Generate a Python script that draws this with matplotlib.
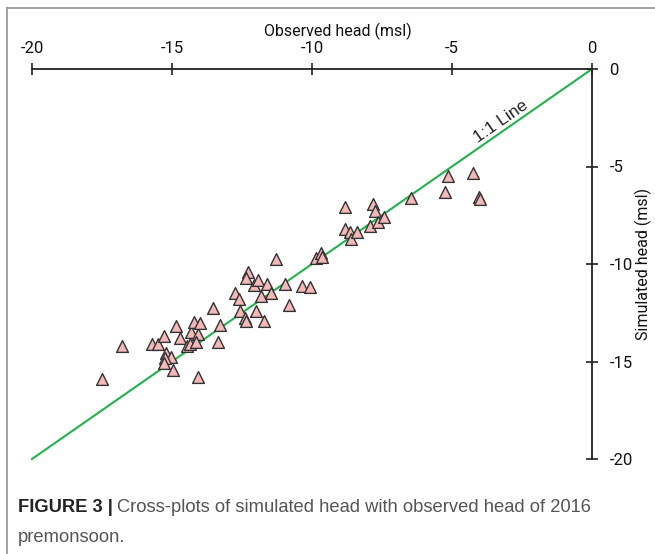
import matplotlib
matplotlib.use("Agg")
import matplotlib.pyplot as plt
from matplotlib.lines import Line2D

# observed vs simulated head (msl)
observed = [-17.51, -16.79, -15.72, -15.50, -15.27, -15.22, -15.02, -15.24, -15.27, -14.98,
            -14.85, -14.70, -14.47, -14.37, -14.31, -14.20, -14.07, -14.14, -13.99, -14.08,
            -13.55, -13.37, -13.30, -12.74, -12.61, -12.58, -12.40, -12.34, -12.28, -12.34,
            -12.08, -11.94, -11.99, -11.81, -11.72, -11.60, -11.45, -11.28, -10.98, -10.81,
            -10.35, -10.08, -9.84, -9.68, -9.64, -8.83, -8.66, -8.60, -8.81, -8.41,
            -7.94, -7.82, -7.74, -7.65, -7.43, -6.45, -5.25, -5.16, -4.26, -4.05, -4.01]
simulated = [-15.88, -14.21, -14.12, -14.12, -13.69, -14.58, -14.78, -14.84, -15.06, -15.44,
             -13.16, -13.81, -14.23, -14.10, -13.47, -12.96, -13.59, -13.98, -13.04, -15.79,
             -12.24, -13.98, -13.13, -11.50, -11.78, -12.39, -12.78, -12.91, -10.43, -10.73,
             -11.08, -10.82, -12.39, -11.64, -12.91, -11.04, -11.47, -9.74, -11.04, -12.10,
             -11.11, -11.16, -9.71, -9.45, -9.63, -8.22, -8.34, -8.70, -7.06, -8.36,
             -8.05, -6.92, -7.27, -7.83, -7.57, -6.63, -6.32, -5.49, -5.35, -6.58, -6.68]
one_to_one = [-20, 0]
ticks = [-20, -15, -10, -5, 0]

axis_font = 'Roboto'

fig = plt.figure(figsize=(6.55, 5.54), dpi=100)
ax = fig.add_axes([32/655, 1 - 459/554, 560/655, 390/554])

ax.plot(one_to_one, one_to_one, color='#22b24c', lw=1.5, clip_on=False, zorder=2)
ax.scatter(observed, simulated, marker='^', s=72, facecolor='#f5b8b8',
           edgecolor='#333333', linewidth=1.0, zorder=3, clip_on=False)
ax.text(-3.25, -2.7, '1:1 Line', rotation=45, transform_rotates_text=True,
        rotation_mode='anchor', ha='center', va='center', fontsize=12.5,
        family='Liberation Sans', color='#222222')

ax.set_xlim(-20, 0)
ax.set_ylim(-20, 0)
for side in ['left', 'bottom']:
    ax.spines[side].set_visible(False)
for side in ['top', 'right']:
    ax.spines[side].set_linewidth(1.3)
    ax.spines[side].set_color('#222222')

ax.xaxis.tick_top()
ax.xaxis.set_label_position('top')
ax.yaxis.tick_right()
ax.yaxis.set_label_position('right')
ax.set_xticks(ticks)
ax.set_yticks(ticks)
ax.set_xticklabels([str(t) for t in ticks])
ax.set_yticklabels([str(t) for t in ticks])
ax.tick_params(axis='both', direction='inout', length=9, width=1.2, colors='#222222')
ax.tick_params(axis='x', pad=5)
ax.tick_params(axis='y', pad=8)
for lab in ax.get_xticklabels() + ax.get_yticklabels():
    lab.set_family(axis_font)
    lab.set_fontsize(12)
    lab.set_color('#111111')

ax.set_xlabel('Observed head (msl)', family=axis_font, fontsize=11.5, color='#111111')
ax.xaxis.set_label_coords(0.547, 1.085)
ax.set_ylabel('Simulated head (msl)', family=axis_font, fontsize=11.5, color='#111111')
ax.yaxis.set_label_coords(1.077, 0.5)

# frame around figure
fig.add_artist(Line2D([7/655, 7/655], [0, 1 - 8/554], transform=fig.transFigure,
                      color='#9a9a9a', lw=1.3))
fig.add_artist(Line2D([7/655, 1], [1 - 8/554, 1 - 8/554], transform=fig.transFigure,
                      color='#9a9a9a', lw=1.3))

# caption
cap_size = 13.2
t1 = fig.text(18/655, 1 - 508/554, 'FIGURE 3 |', family='Liberation Sans',
              weight='bold', fontsize=cap_size, color='#222222', va='center')
fig.canvas.draw()
bb = t1.get_window_extent(renderer=fig.canvas.get_renderer())
fig.text((bb.x1 + 4) / 655, 1 - 508/554,
         'Cross-plots of simulated head with observed head of 2016',
         family='Liberation Sans', fontsize=cap_size, color='#555555', va='center')
fig.text(18/655, 1 - 538/554, 'premonsoon.', family='Liberation Sans',
         fontsize=cap_size, color='#555555', va='center')

fig.savefig('out.png', dpi=100)
